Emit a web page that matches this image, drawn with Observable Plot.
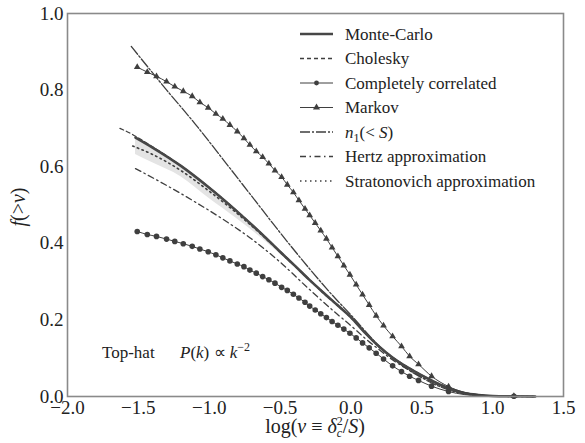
<!DOCTYPE html>
<html><head><meta charset="utf-8">
<script src="https://cdn.jsdelivr.net/npm/d3@7"></script>
<script src="https://cdn.jsdelivr.net/npm/@observablehq/plot@0.6"></script>
<style>
body{margin:0;background:#fff}
#chart svg, #chart svg text, #chart svg tspan, #chart svg g { font-family: "Liberation Serif", serif !important; }
</style>
</head><body><div id="chart"></div>
<script>
const xTicks = [-2, -1.5, -1, -0.5, 0, 0.5, 1, 1.5];
const yTicks = [0, 0.2, 0.4, 0.6, 0.8, 1.0];

// Monte-Carlo
const mcX = [-1.52,-1.4,-1.2,-1.0,-0.8,-0.6,-0.5,-0.4,-0.3,-0.2,-0.1,0.0,0.1,0.2,0.3,0.4,0.5,0.6,0.7,0.8,0.9,1.0,1.1,1.3];
const mcF = [0.676,0.650,0.602,0.545,0.482,0.414,0.378,0.343,0.307,0.273,0.240,0.207,0.166,0.130,0.100,0.076,0.055,0.036,0.020,0.009,0.004,0.0015,0.0005,0];
// Monte-Carlo scatter band
const bandLo = [0.632,0.610,0.574,0.517,0.463,0.404,0.372,0.340,0.304,0.270,0.237,0.204,0.163,0.127,0.097,0.073,0.053,0.034,0.018,0.008,0.003,0.001,0.0002,0];
const bandHi = [0.679,0.653,0.605,0.548,0.485,0.417,0.381,0.346,0.310,0.276,0.243,0.210,0.169,0.133,0.103,0.079,0.057,0.038,0.022,0.010,0.005,0.002,0.0008,0.0004];
// Cholesky
const chX = [-1.63,-1.55,-1.5,-1.4,-1.2,-1.0,-0.8,-0.6,-0.5,-0.4,-0.3,-0.2,-0.1,0.0,0.1,0.2,0.3,0.4,0.5,0.6,0.7,0.8,0.9,1.0,1.1,1.3];
const chF = [0.700,0.686,0.675,0.652,0.603,0.546,0.483,0.415,0.379,0.344,0.308,0.274,0.241,0.208,0.167,0.131,0.101,0.077,0.056,0.037,0.021,0.010,0.004,0.0015,0.0005,0];
// Marker positions shared by "Completely correlated" and "Markov"
const markX = [-1.508,-1.437,-1.372,-1.301,-1.243,-1.183,-1.120,-1.066,-1.007,-0.953,-0.904,-0.854,-0.802,-0.755,-0.713,-0.668,-0.623,-0.579,-0.536,-0.489,-0.449,-0.406,-0.367,-0.324,-0.291,-0.252,-0.213,-0.173,-0.133,-0.092,-0.050,-0.007,0.037,0.082,0.129,0.178,0.230,0.294,0.357,0.414,0.477,0.569,0.689,1.15];
const corrF = [0.431,0.423,0.418,0.411,0.405,0.399,0.392,0.385,0.378,0.370,0.362,0.354,0.346,0.339,0.330,0.322,0.313,0.305,0.296,0.285,0.277,0.267,0.257,0.246,0.236,0.226,0.216,0.206,0.196,0.186,0.176,0.165,0.153,0.140,0.127,0.113,0.098,0.080,0.065,0.053,0.042,0.027,0.013,0.0005];
const markovF = [0.860,0.847,0.836,0.822,0.809,0.797,0.784,0.768,0.754,0.738,0.725,0.709,0.692,0.674,0.657,0.640,0.625,0.608,0.590,0.573,0.553,0.533,0.512,0.490,0.473,0.453,0.433,0.412,0.389,0.366,0.342,0.318,0.292,0.266,0.239,0.211,0.185,0.157,0.131,0.105,0.084,0.053,0.026,0.001];
const tailX = [0.8, 0.9, 1.0, 1.3];
const corrTailF = [0.005, 0.002, 0.001, 0];
const markovTailF = [0.011, 0.005, 0.002, 0];
// n1(<S)
const n1X = [-1.55,-1.3,-1.1,-0.9,-0.7,-0.5,-0.3,-0.1,0.0,0.1,0.2,0.3,0.4,0.5,0.6,0.7,0.8,0.9,1.0,1.3];
const n1F = [0.914,0.800,0.712,0.618,0.523,0.428,0.337,0.252,0.213,0.171,0.131,0.098,0.071,0.049,0.030,0.016,0.007,0.003,0.001,0];
// Hertz approximation
const hzX = [-1.52,-1.3,-1.1,-0.9,-0.7,-0.5,-0.3,-0.1,0.0,0.1,0.2,0.3,0.4,0.5,0.6,0.7,0.8,1.0,1.3];
const hzF = [0.595,0.551,0.508,0.462,0.411,0.351,0.282,0.216,0.185,0.152,0.122,0.094,0.071,0.051,0.033,0.018,0.008,0.0015,0];
// Stratonovich approximation
const stX = [-1.54,-1.4,-1.2,-1.0,-0.8,-0.6,-0.4,-0.2,0.0,0.2,0.4,0.6,0.8,1.0,1.3];
const stF = [0.654,0.632,0.590,0.536,0.477,0.412,0.342,0.272,0.206,0.129,0.075,0.035,0.009,0.0015,0];

const legendItems = ["Monte-Carlo","Cholesky","Completely correlated","Markov","n1","Hertz approximation","Stratonovich approximation"];

const ink = "#3f3f3f";
const fam = "Liberation Serif";
const corrLX = markX.slice(0, -1).concat(tailX);
const corrLF = corrF.slice(0, -1).concat(corrTailF);
const markLX = markX.slice(0, -1).concat(tailX);
const markLF = markovF.slice(0, -1).concat(markovTailF);

const plot = Plot.plot({
  width: 585, height: 443,
  marginLeft: 67, marginRight: 22, marginTop: 13, marginBottom: 47,
  style: {fontFamily: fam, fontSize: "19px", color: "#222", background: "#fff"},
  x: {domain: [-2, 1.5]},
  y: {domain: [0, 1]},
  marks: [
    Plot.areaY(mcX, {x: mcX, y1: bandLo, y2: bandHi, fill: "#e4e4e4", curve: "monotone-x"}),
    Plot.line(stX, {x: stX, y: stF, stroke: ink, strokeWidth: 1.6, strokeDasharray: "1.5,3.5", curve: "monotone-x"}),
    Plot.line(hzX, {x: hzX, y: hzF, stroke: ink, strokeWidth: 1.3, strokeDasharray: "6,3.5,1.5,3.5", curve: "monotone-x"}),
    Plot.line(n1X, {x: n1X, y: n1F, stroke: ink, strokeWidth: 1.3, strokeDasharray: "10,2,2,2", curve: "monotone-x"}),
    Plot.line(chX, {x: chX, y: chF, stroke: ink, strokeWidth: 1.3, strokeDasharray: "4,3", curve: "monotone-x"}),
    Plot.line(mcX, {x: mcX, y: mcF, stroke: "#474747", strokeWidth: 2.6, curve: "monotone-x"}),
    Plot.line(corrLX, {x: corrLX, y: corrLF, stroke: ink, strokeWidth: 1, curve: "monotone-x"}),
    Plot.dot(markX, {x: markX, y: corrF, r: 2.8, fill: ink, stroke: "none"}),
    Plot.line(markLX, {x: markLX, y: markLF, stroke: ink, strokeWidth: 1, curve: "monotone-x"}),
    Plot.dot(markX, {x: markX, y: markovF, symbol: "triangle", r: 2.5, fill: ink, stroke: "none"}),
    Plot.frame({stroke: "#8a8a8a", strokeWidth: 1.6}),
    Plot.axisX({ticks: xTicks, tickSize: 0, tickPadding: 4, tickFormat: d3.format(".1f"), label: null, fontSize: 19}),
    Plot.axisY({ticks: yTicks, tickSize: 0, tickPadding: 4, tickFormat: d3.format(".1f"), label: null, fontSize: 19})
  ]
});

const svg = d3.select(plot);

// Axis labels
const yl = svg.append("text").attr("transform", "translate(25,207) rotate(-90)")
  .attr("text-anchor", "middle").attr("font-size", 20).attr("fill", "#222");
yl.append("tspan").attr("font-style", "italic").text("f");
yl.append("tspan").text("(>");
yl.append("tspan").attr("font-style", "italic").text("ν");
yl.append("tspan").text(")");

const xl = svg.append("text").attr("x", 315).attr("y", 433)
  .attr("text-anchor", "middle").attr("font-size", 20).attr("fill", "#222");
xl.append("tspan").text("log(");
xl.append("tspan").attr("font-style", "italic").text("ν");
xl.append("tspan").text(" ≡ ");
xl.append("tspan").attr("font-style", "italic").text("δ");
xl.append("tspan").attr("font-style", "italic").attr("font-size", 12).attr("dy", 4).text("c");
xl.append("tspan").attr("font-size", 12).attr("dx", -5.5).attr("dy", -12).text("2");
xl.append("tspan").attr("dy", 8).text("/");
xl.append("tspan").attr("font-style", "italic").text("S");
xl.append("tspan").text(")");

// Annotation
const an = svg.append("text").attr("y", 358).attr("text-anchor", "start").attr("font-size", 17).attr("fill", "#222");
an.append("tspan").attr("x", 102).text("Top-hat");
an.append("tspan").attr("x", 180).attr("font-style", "italic").text("P");
an.append("tspan").text("(");
an.append("tspan").attr("font-style", "italic").text("k");
an.append("tspan").text(") ∝ ");
an.append("tspan").attr("font-style", "italic").text("k");
an.append("tspan").attr("font-size", 12).attr("dy", -7).text("−2");

// Legend
const lg = svg.append("g").attr("font-size", 17).attr("fill", "#222").attr("text-anchor", "start");
const styles = [
  {w: 2.6, d: null}, {w: 1.3, d: "4,3"}, {w: 1, d: null, m: "circle"}, {w: 1, d: null, m: "triangle"},
  {w: 1.3, d: "10,2,2,2"}, {w: 1.3, d: "6,3.5,1.5,3.5"}, {w: 1.6, d: "1.5,3.5"}
];
legendItems.forEach((name, i) => {
  const y = 34 + i * 24.5;
  const s = styles[i];
  const ln = lg.append("line").attr("x1", 300).attr("x2", 333).attr("y1", y).attr("y2", y)
    .attr("stroke", i === 0 ? "#474747" : ink).attr("stroke-width", s.w);
  if (s.d) ln.attr("stroke-dasharray", s.d);
  if (s.m === "circle") lg.append("circle").attr("cx", 316.5).attr("cy", y).attr("r", 2.4).attr("fill", ink);
  if (s.m === "triangle") lg.append("path").attr("d", d3.symbol(d3.symbolTriangle, 22)()).attr("transform", `translate(316.5,${y})`).attr("fill", ink);
  const t = lg.append("text").attr("x", 345).attr("y", y).attr("dy", "0.35em");
  if (name === "n1") {
    t.append("tspan").attr("font-style", "italic").text("n");
    t.append("tspan").attr("font-size", 12).attr("dy", 4).text("1");
    t.append("tspan").attr("dy", -4).text("(< ");
    t.append("tspan").attr("font-style", "italic").text("S");
    t.append("tspan").text(")");
  } else {
    t.text(name);
  }
});

document.getElementById("chart").appendChild(plot);
</script>
</body></html>
